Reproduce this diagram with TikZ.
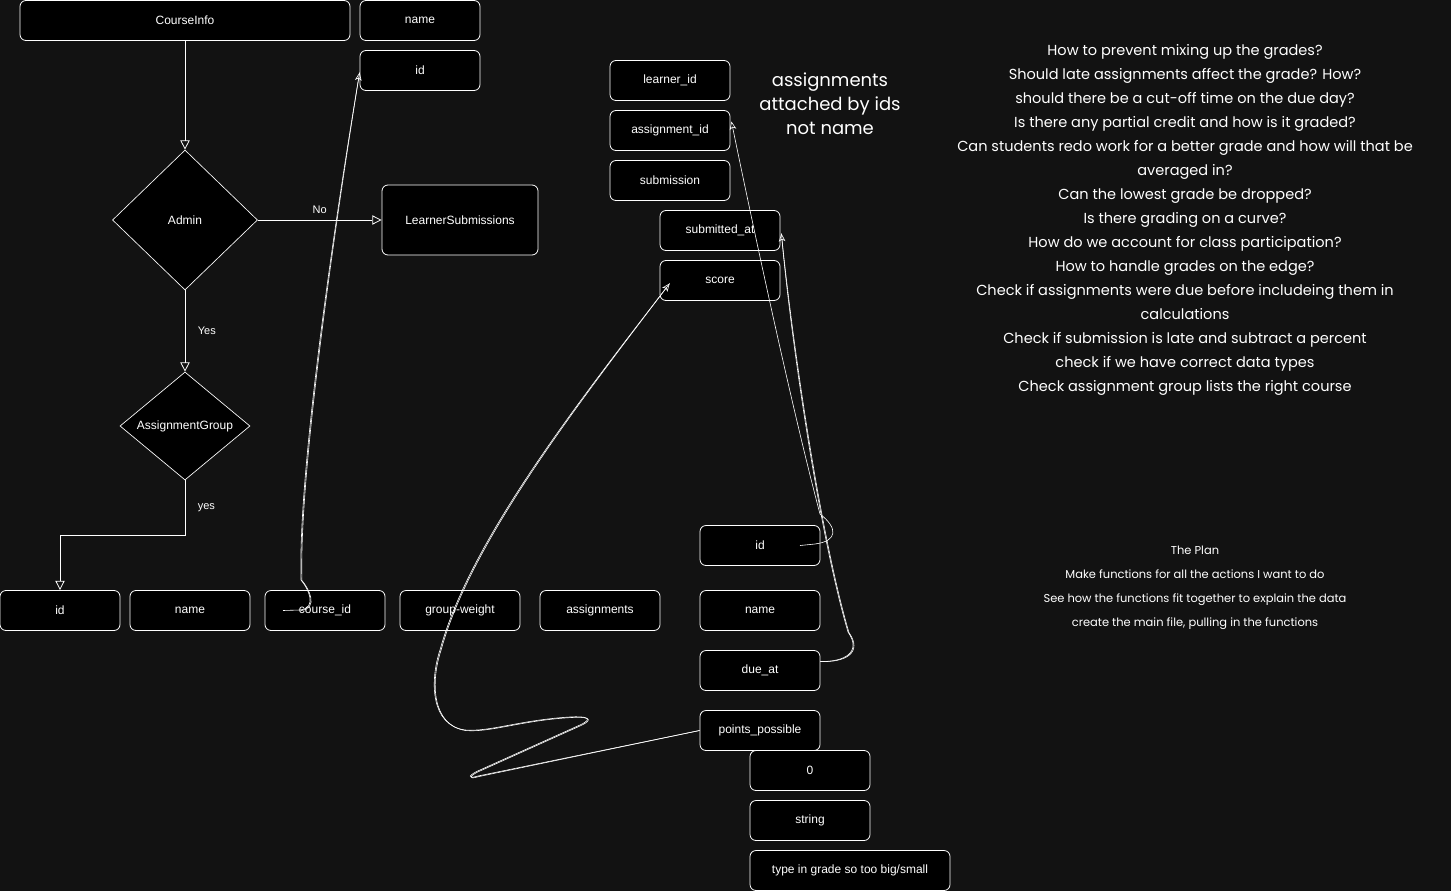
\documentclass[tikz,border=0pt]{standalone}
\usepackage{fontspec}
\setmainfont{Liberation Sans}
\newfontfamily\handfont{Poppins}
\usetikzlibrary{arrows.meta,shapes.geometric,calc}
\definecolor{bg}{RGB}{18,18,18}
\tikzset{
  box/.style={draw=white, fill=black, rounded corners=4.5pt, line width=0.6pt, text=white,
    font=\fontsize{9}{11}\selectfont, inner sep=0pt, minimum width=90pt, minimum height=30pt},
  dia/.style={diamond, draw=white, fill=black, line width=0.5pt, text=white,
    font=\fontsize{9}{11}\selectfont, inner sep=0pt, aspect=1},
  flow/.style={draw=white, line width=0.6pt, -{Triangle[open, length=7pt, width=7pt]}},
  lbl/.style={text=white, font=\fontsize{8.25}{10}\selectfont},
  sk/.style={draw=white, line width=0.45pt},
  skarrow/.style={sk, -{Stealth[open, length=6pt, width=5pt, inset=1.5pt]}},
  hand/.style={text=white, align=center, inner sep=0pt}
}
\begin{document}
\begin{tikzpicture}[x=0.75pt,y=-0.75pt]
\fill[bg] (0,0) rectangle (1451,891);
\useasboundingbox (0,0) rectangle (1451,891);

% top entities
\node[box, minimum width=247.5pt] (ci) at (185,20.5) {CourseInfo};
\node[box] (tname) at (420,20.5) {name};
\node[box] (tid) at (420,70.5) {id};
\node[dia, minimum width=108.75pt, minimum height=105pt] (admin) at (185,220) {Admin};
\node[box, minimum width=117pt, minimum height=52.5pt] (ls) at (460,220) {LearnerSubmissions};
\node[dia, minimum width=97.5pt, minimum height=81pt] (ag) at (185,426) {AssignmentGroup};

% group row
\node[box] (gid) at (60,610.5) {id};
\node[box] (gname) at (190,610.5) {name};
\node[box] (cid) at (325,610.5) {course\_id};
\node[box] (gw) at (460,610.5) {group-weight};
\node[box] (asg) at (600,610.5) {assignments};

% submissions
\node[box] (lid) at (670,80.5) {learner\_id};
\node[box] (said) at (670,130.5) {assignment\_id};
\node[box] (sub) at (670,180.5) {submission};
\node[box] (sat) at (720,230.5) {submitted\_at};
\node[box] (score) at (720,280.5) {score};

% assignments
\node[box] (aid) at (760,545.5) {id};
\node[box] (aname) at (760,610.5) {name};
\node[box] (due) at (760,670.5) {due\_at};
\node[box] (pp) at (760,730.5) {points\_possible};
\node[box] (zero) at (810,770.5) {0};
\node[box] (str) at (810,820.5) {string};
\node[box, minimum width=150pt] (typ) at (850,870.5) {type in grade so too big/small};

% flow connectors
\coordinate (agturn) at (185,535);
\draw[flow] (ci.south) -- (admin.north);
\draw[flow] (admin.east) -- node[lbl, above=1pt] {No} (ls.west);
\draw[flow] (admin.south) -- node[lbl, right=6pt] {Yes} (ag.north);
\draw[flow] (ag.south) -- node[lbl, right=6pt] {yes} (agturn) -| (gid.north);

% sketchy connectors (main strokes with arrows)
\draw[skarrow] ($(cid.center)+(-42,0)$) -- (300,610) .. controls (318,608) and (308,588) .. (301,580)
   .. controls (298,480) and (330,250) .. ($(tid.west)+(0,2)$);
\draw[skarrow] ($(aid.center)+(40,0)$) -- (815,544) .. controls (838,541) and (838,528) .. (820,514)
   .. controls (795,420) and (760,260) .. ($(said.east)+(1,-9)$);
\draw[skarrow] ($(due.east)+(0,-9)$) .. controls (845,662) and (862,652) .. (848,632)
   .. controls (818,530) and (790,330) .. ($(sat.east)+(1,3)$);
\draw[skarrow] (pp.west) -- (478,776) .. controls (465,780) and (470,774) .. (480,770) -- (580,725)
   .. controls (595,718) and (585,716) .. (570,717) .. controls (520,720) and (490,732) .. (465,730)
   .. controls (430,725) and (430,680) .. (440,650) .. controls (470,540) and (580,400) .. ($(score.west)+(10,3)$);
% second sketch strokes (same paths, slightly shifted)
\begin{scope}[xshift=0.7pt, yshift=-0.4pt]
\draw[sk] (300,610) .. controls (318,608) and (308,588) .. (301,580)
   .. controls (298,480) and (330,250) .. ($(tid.west)+(0,2)$);
\draw[sk] ($(due.east)+(0,-9)$) .. controls (845,662) and (862,652) .. (848,632)
   .. controls (818,530) and (790,330) .. ($(sat.east)+(1,3)$);
\draw[sk] (pp.west) -- (478,776) .. controls (465,780) and (470,774) .. (480,770) -- (580,725)
   .. controls (595,718) and (585,716) .. (570,717) .. controls (520,720) and (490,732) .. (465,730)
   .. controls (430,725) and (430,680) .. (440,650) .. controls (470,540) and (580,400) .. ($(score.west)+(10,3)$);
\end{scope}

% notes
\node[hand, font=\handfont\fontsize{13.5}{18}\selectfont] (note) at (830,104)
  {assignments\\attached by ids\\not name};
\node[hand, font=\handfont\fontsize{10.9}{18}\selectfont] (qs) at (1185,220)
  {How to prevent mixing up the grades?\\
   Should late assignments affect the grade? How?\\
   should there be a cut-off time on the due day?\\
   Is there any partial credit and how is it graded?\\
   Can students redo work for a better grade and how will that be\\
   averaged in?\\
   Can the lowest grade be dropped?\\
   Is there grading on a curve?\\
   How do we account for class participation?\\
   How to handle grades on the edge?\\
   Check if assignments were due before includeing them in\\
   calculations\\
   Check if submission is late and subtract a percent\\
   check if we have correct data types\\
   Check assignment group lists the right course};
\node[hand, font=\handfont\fontsize{8.6}{18}\selectfont] (plan) at (1195,588)
  {The Plan\\
   Make functions for all the actions I want to do\\
   See how the functions fit together to explain the data\\
   create the main file, pulling in the functions};
\end{tikzpicture}
\end{document}
